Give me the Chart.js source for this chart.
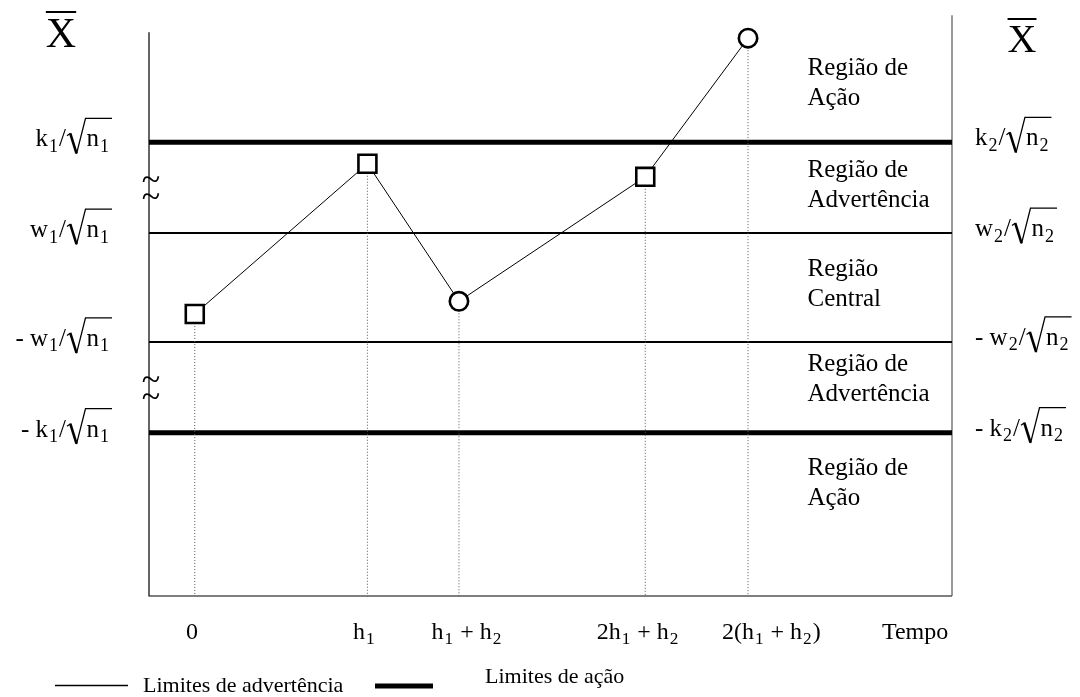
<!DOCTYPE html>
<html>
<head>
<meta charset="utf-8">
<script src="https://cdn.jsdelivr.net/npm/chart.js@4"></script>
<style>
  html, body { margin: 0; padding: 0; background: #fff; }
  #wrap { width: 1080px; height: 697px; }
</style>
</head>
<body>
<div id="wrap"><canvas id="controlChart"></canvas></div>
<script>
// amostras ao longo do tempo (tamanho 1 -> n1, tamanho 2 -> n2)
const sampleX = [5.7, 27.2, 38.6, 61.8, 74.6];
const sampleY = [-0.73, 3.41, -0.38, 3.05, 6.87];
const sampleSize = [1, 1, 2, 1, 2];

// limites de controle
const actionLimit = 4;
const warningLimit = 1.5;

// eixo do tempo
const timeTickPos = [5.35, 26.8, 39.6, 60.9, 77.5, 95.4];
const timeTickLabels = [
  ['0'],
  ['h', '_1'],
  ['h', '_1', ' + h', '_2'],
  ['2h', '_1', ' + h', '_2'],
  ['2(h', '_1', ' + h', '_2', ')'],
  ['Tempo']
];

// rotulos dos limites (esquerda n1, direita n2); '√' abre a raiz ate o fim
const limitValues = [actionLimit, warningLimit, -warningLimit, -actionLimit];
const leftLimitLabels = [
  ['k', '_1', '/', '√', 'n', '_1'],
  ['w', '_1', '/', '√', 'n', '_1'],
  ['- w', '_1', '/', '√', 'n', '_1'],
  ['- k', '_1', '/', '√', 'n', '_1']
];
const rightLimitLabels = [
  ['k', '_2', '/', '√', 'n', '_2'],
  ['w', '_2', '/', '√', 'n', '_2'],
  ['- w', '_2', '/', '√', 'n', '_2'],
  ['- k', '_2', '/', '√', 'n', '_2']
];

// regioes
const regionNames = [
  ['Região de', 'Ação'],
  ['Região de', 'Advertência'],
  ['Região', 'Central'],
  ['Região de', 'Advertência'],
  ['Região de', 'Ação']
];
const regionY = [5.62, 2.82, 0.08, -2.54, -5.4];
const breakMarksY = [3.0, 2.53, -2.52, -3.0];

const legendLabels = ['Limites de advertência', 'Limites de ação'];

const X_MIN = 0, X_MAX = 100, Y_MIN = -8.5, Y_MAX = 7.5;
const SERIF = '"Liberation Serif", "Times New Roman", serif';

function setFont(ctx, size) { ctx.font = size + 'px ' + SERIF; }

// texto com subscritos e raiz quadrada
function drawRich(ctx, tokens, x, y, F, align) {
  const items = [];
  let w = 0;
  let root = null;
  tokens.forEach(function(tok) {
    if (tok === '√') {
      root = { x: w + 1 };
      w += 0.74 * F + 2;
      return;
    }
    const sub = tok[0] === '_';
    const t = sub ? tok.slice(1) : tok;
    const size = sub ? F * 0.72 : F;
    setFont(ctx, size);
    items.push({ t: t, size: size, dx: w + (sub ? 1 : 0), dy: sub ? F * 0.22 : 0 });
    w += ctx.measureText(t).width + (sub ? 2 : 0);
  });
  let x0 = x;
  if (align === 'right') x0 = x - w;
  else if (align === 'center') x0 = x - w / 2;
  ctx.textAlign = 'left';
  ctx.textBaseline = 'alphabetic';
  items.forEach(function(it) {
    setFont(ctx, it.size);
    ctx.fillText(it.t, x0 + it.dx, y + it.dy);
  });
  if (root) {
    const rx = x0 + root.x;
    const top = y - 1.12 * F;
    ctx.lineJoin = 'miter';
    ctx.lineWidth = 1.3;
    ctx.beginPath();
    ctx.moveTo(rx, y - 0.42 * F);
    ctx.lineTo(rx + 0.14 * F, y - 0.52 * F);
    ctx.stroke();
    ctx.lineWidth = 2.6;
    ctx.beginPath();
    ctx.moveTo(rx + 0.13 * F, y - 0.52 * F);
    ctx.lineTo(rx + 0.38 * F, y + 0.28 * F);
    ctx.stroke();
    ctx.lineWidth = 1.3;
    ctx.beginPath();
    ctx.moveTo(rx + 0.38 * F, y + 0.3 * F);
    ctx.lineTo(rx + 0.74 * F, top);
    ctx.lineTo(x0 + w + 2, top);
    ctx.stroke();
  }
}

function drawXbar(ctx, cx, base, size) {
  setFont(ctx, size);
  ctx.textAlign = 'center';
  ctx.textBaseline = 'alphabetic';
  ctx.fillText('X', cx, base);
  const m = ctx.measureText('X');
  const top = base - m.actualBoundingBoxAscent - 7;
  ctx.beginPath();
  ctx.lineWidth = 2;
  ctx.moveTo(cx - m.width / 2, top);
  ctx.lineTo(cx + m.width / 2, top);
  ctx.stroke();
}

const decorPlugin = {
  id: 'decor',
  beforeDatasetsDraw: function(chart) {
    const ctx = chart.ctx;
    const a = chart.chartArea;
    ctx.save();
    ctx.strokeStyle = '#000';
    ctx.lineWidth = 1.2;
    ctx.beginPath();
    ctx.moveTo(a.left, a.top + 17);
    ctx.lineTo(a.left, a.bottom);
    ctx.lineTo(a.right, a.bottom);
    ctx.stroke();
    ctx.strokeStyle = '#555';
    ctx.beginPath();
    ctx.moveTo(a.right, a.top);
    ctx.lineTo(a.right, a.bottom);
    ctx.stroke();
    ctx.restore();
  },
  afterDatasetsDraw: function(chart) {
    const ctx = chart.ctx;
    const a = chart.chartArea;
    const xs = chart.scales.x;
    const ys = chart.scales.y;
    ctx.save();
    ctx.fillStyle = '#000';
    ctx.strokeStyle = '#000';

    // titulos X barra
    drawXbar(ctx, a.left - 88, 47, 42);
    drawXbar(ctx, a.right + 70, 52, 40);

    // rotulos dos limites
    limitValues.forEach(function(v, i) {
      const py = ys.getPixelForValue(v);
      drawRich(ctx, leftLimitLabels[i], a.left - 39, py + 4, 25, 'right');
      drawRich(ctx, rightLimitLabels[i], a.right + 23, py + 3, 25, 'left');
    });

    // marcas de quebra no eixo
    setFont(ctx, 34);
    ctx.textAlign = 'center';
    ctx.textBaseline = 'alphabetic';
    const tm = ctx.measureText('~');
    const tc = (tm.actualBoundingBoxAscent - tm.actualBoundingBoxDescent) / 2;
    breakMarksY.forEach(function(v) {
      ctx.fillText('~', a.left + 2, ys.getPixelForValue(v) + tc);
    });

    // regioes
    setFont(ctx, 25);
    ctx.textAlign = 'left';
    ctx.textBaseline = 'middle';
    regionNames.forEach(function(lines, i) {
      const cy = ys.getPixelForValue(regionY[i]);
      lines.forEach(function(s, j) {
        ctx.fillText(s, xs.getPixelForValue(82), cy + (j - (lines.length - 1) / 2) * 30);
      });
    });

    // eixo do tempo
    timeTickLabels.forEach(function(tokens, i) {
      drawRich(ctx, tokens, xs.getPixelForValue(timeTickPos[i]), a.bottom + 43, 24, 'center');
    });

    // legenda
    ctx.lineWidth = 1.6;
    ctx.beginPath();
    ctx.moveTo(55, 685.5);
    ctx.lineTo(128, 685.5);
    ctx.stroke();
    ctx.lineWidth = 5;
    ctx.beginPath();
    ctx.moveTo(375, 686);
    ctx.lineTo(433, 686);
    ctx.stroke();
    setFont(ctx, 22);
    ctx.textAlign = 'left';
    ctx.textBaseline = 'middle';
    ctx.fillText(legendLabels[0], 143, 686);
    ctx.fillText(legendLabels[1], 485, 677);
    ctx.restore();
  }
};

const limitDatasets = limitValues.map(function(v) {
  return {
    data: [{ x: X_MIN, y: v }, { x: X_MAX, y: v }],
    showLine: true,
    borderColor: '#000',
    borderWidth: Math.abs(v) === actionLimit ? 5 : 2,
    pointRadius: 0,
    order: 3
  };
});

const dropDatasets = sampleX.map(function(x, i) {
  return {
    data: [{ x: x, y: sampleY[i] }, { x: x, y: Y_MIN }],
    showLine: true,
    borderColor: '#555',
    borderWidth: 1,
    borderDash: [1, 2],
    pointRadius: 0,
    order: 2
  };
});

const sampleDataset = {
  data: sampleX.map(function(x, i) { return { x: x, y: sampleY[i] }; }),
  showLine: true,
  borderColor: '#000',
  borderWidth: 1,
  tension: 0,
  pointStyle: sampleSize.map(function(s) { return s === 1 ? 'rect' : 'circle'; }),
  pointRadius: sampleSize.map(function(s) { return s === 1 ? 12.7 : 9.2; }),
  pointBorderWidth: 2.6,
  pointBorderColor: '#000',
  pointBackgroundColor: '#fff',
  order: 0
};

const config = {
  type: 'scatter',
  data: { datasets: limitDatasets.concat(dropDatasets, [sampleDataset]) },
  options: {
    responsive: true,
    maintainAspectRatio: false,
    animation: false,
    layout: { padding: { left: 149, right: 128, top: 13, bottom: 101 } },
    scales: {
      x: { type: 'linear', min: X_MIN, max: X_MAX, display: false },
      y: { type: 'linear', min: Y_MIN, max: Y_MAX, display: false }
    },
    plugins: {
      legend: { display: false },
      tooltip: { enabled: false }
    }
  },
  plugins: [decorPlugin]
};

const controlChart = new Chart(document.getElementById('controlChart'), config);
</script>
</body>
</html>
